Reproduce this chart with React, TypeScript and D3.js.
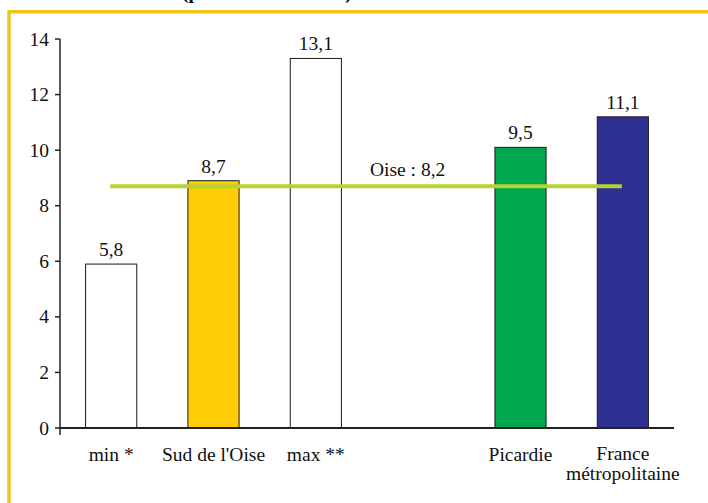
import React from "react";
import * as d3 from "d3";

const categories = ["min *", "Sud de l'Oise", "max **", "", "Picardie", "France métropolitaine"];
const barValues = [5.9, 8.9, 13.3, null, 10.1, 11.2];
const valueLabels = ["5,8", "8,7", "13,1", "", "9,5", "11,1"];
const barColors = ["#ffffff", "#ffcc05", "#ffffff", "none", "#00a84f", "#2e3192"];
const yTicks = [0, 2, 4, 6, 8, 10, 12, 14];
const oiseValue = 8.7;
const oiseLabel = "Oise : 8,2";
const title = "(pour 100 habitants)";

export default function App() {
  const W = 708, H = 503;
  const x0 = 60, x1 = 674, yTop = 39, yBot = 428;
  const x = d3.scaleBand<number>().domain(d3.range(categories.length)).range([x0, x1]).paddingInner(0.5).paddingOuter(0.25);
  const y = d3.scaleLinear().domain([0, 14]).range([yBot, yTop]);
  const font = "\"Liberation Serif\", Tinos, \"Times New Roman\", Times, \"DejaVu Serif\", serif";
  const lineX0 = x(0)! + x.bandwidth() / 2 - 1;
  const lineX1 = x(5)! + x.bandwidth() / 2 - 1;
  return (
    <svg width={W} height={H} style={{ position: "fixed", left: 0, top: 0, background: "#fff", fontFamily: font }}>
      <rect x={0} y={0} width={W} height={H} fill="#fff" />
      <text x={182} y={-1} fontSize={19.5} fontWeight="bold" fill="#000" style={{ fontFamily: font }}>{title}</text>
      <line x1={9} x2={W} y1={11.7} y2={11.7} stroke="#f2c31a" strokeWidth={3.5} />
      <line x1={9} x2={9} y1={10} y2={H} stroke="#f2c31a" strokeWidth={3.5} />
      {categories.map((c, i) => {
        const v = barValues[i];
        if (v == null) return null;
        const bx = x(i)!;
        return (
          <g key={i}>
            <rect x={bx} y={y(v)} width={x.bandwidth()} height={yBot - y(v)} fill={barColors[i]} stroke="#1a1a1a" strokeWidth={1} />
            <text x={bx + x.bandwidth() / 2} y={y(v) - 8} textAnchor="middle" fontSize={19.5} fill="#111" style={{ fontFamily: font }}>{valueLabels[i]}</text>
          </g>
        );
      })}
      <line x1={lineX0} x2={lineX1} y1={y(oiseValue)} y2={y(oiseValue)} stroke="#b5d334" strokeWidth={4} />
      <text x={370} y={176} fontSize={19.5} fill="#111" style={{ fontFamily: font }}>{oiseLabel}</text>
      <line x1={x0} x2={x0} y1={yTop} y2={yBot + 7} stroke="#222" strokeWidth={1.5} />
      {yTicks.map(t => (
        <g key={t}>
          <line x1={x0 - 5} x2={x0} y1={y(t)} y2={y(t)} stroke="#222" strokeWidth={1.5} />
          <text x={x0 - 11} y={y(t) + 6.5} textAnchor="end" fontSize={19.5} fill="#111" style={{ fontFamily: font }}>{t}</text>
        </g>
      ))}
      <line x1={x0} x2={x1} y1={yBot} y2={yBot} stroke="#222" strokeWidth={2} />
      {categories.map((c, i) => {
        if (!c) return null;
        const cx = x(i)! + x.bandwidth() / 2;
        if (c === "France métropolitaine") {
          return (
            <text key={i} x={cx} textAnchor="middle" fontSize={19.5} fill="#111" style={{ fontFamily: font }}>
              <tspan x={cx} y={460}>France</tspan>
              <tspan x={cx} y={480}>métropolitaine</tspan>
            </text>
          );
        }
        return <text key={i} x={cx} y={461} textAnchor="middle" fontSize={19.5} fill="#111" style={{ fontFamily: font }}>{c}</text>;
      })}
    </svg>
  );
}
